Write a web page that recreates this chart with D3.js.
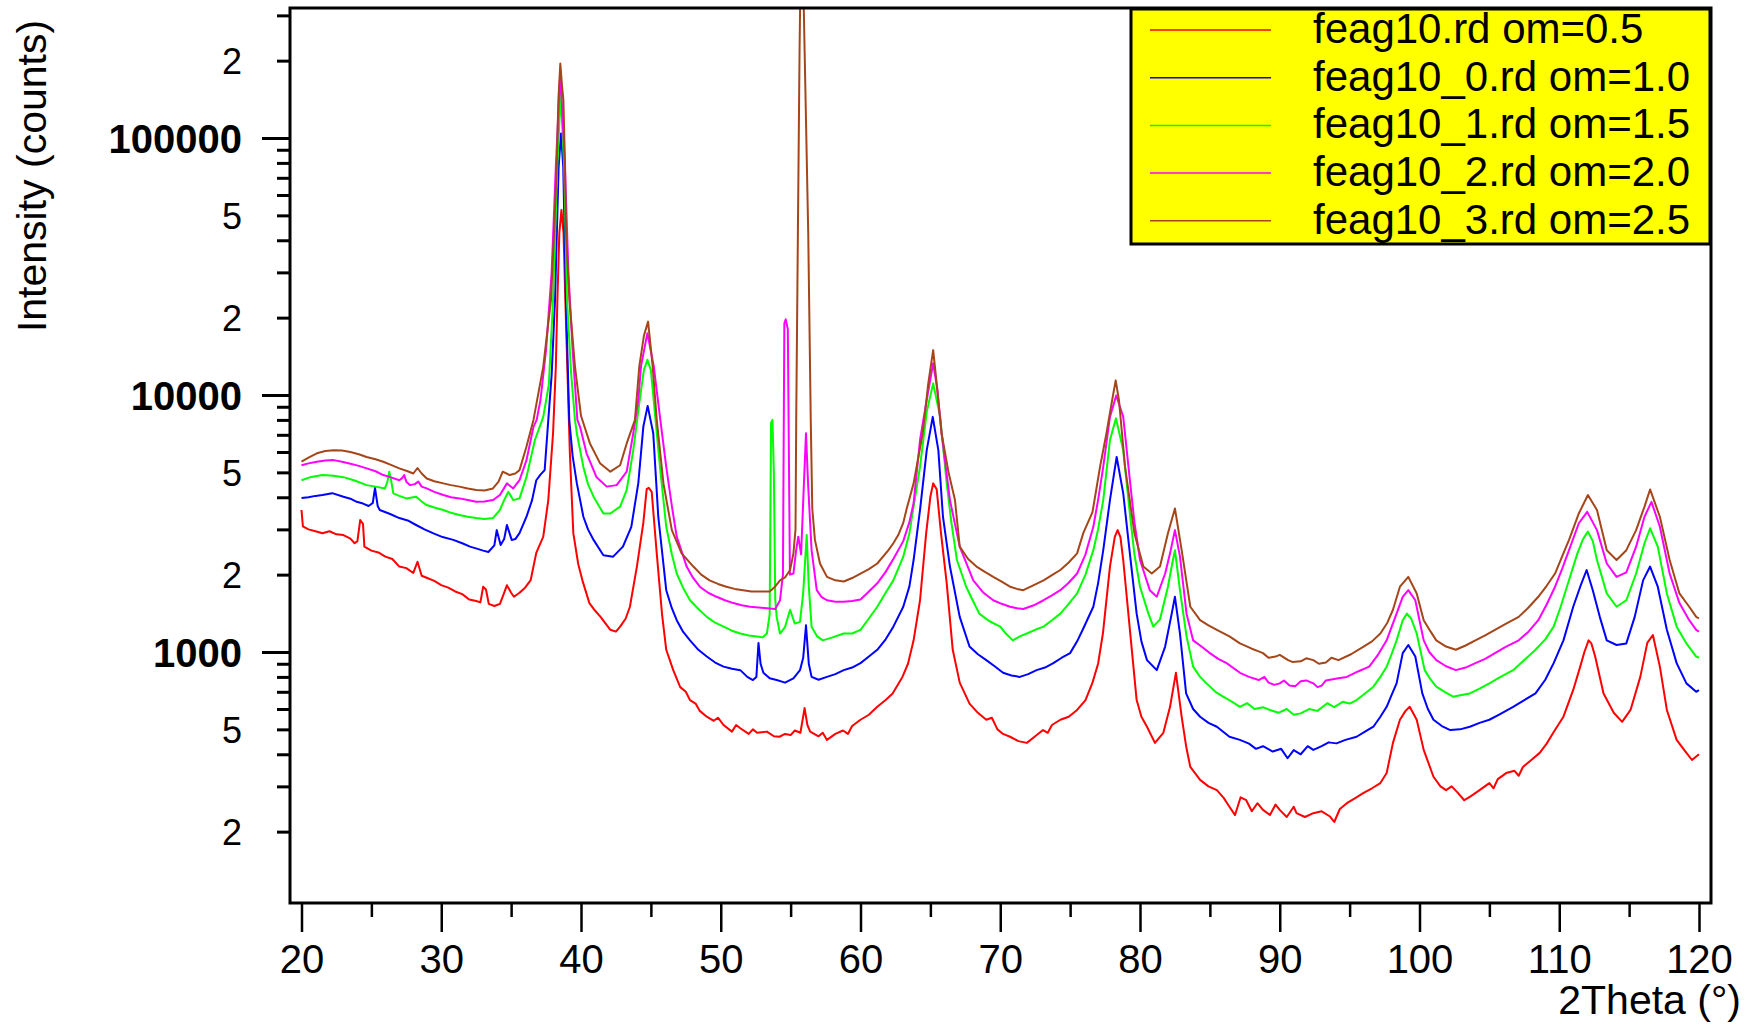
<!DOCTYPE html>
<html><head><meta charset="utf-8">
<script src="https://cdn.jsdelivr.net/npm/d3@7"></script>
<style>
body{margin:0;background:#fff}
text{font-family:"Liberation Sans",Arial,Helvetica,sans-serif;fill:#000}
</style>
</head><body>
<svg id="chart" width="1756" height="1027"></svg>
<script>
// ---------------- data ----------------
const seriesNames = ["feag10.rd om=0.5","feag10_0.rd om=1.0","feag10_1.rd om=1.5","feag10_2.rd om=2.0","feag10_3.rd om=2.5"];
const seriesColors = ["#ff0000","#0000ff","#00ff00","#ff00ff","#a5461a"];
const xTickValues = [20,25,30,35,40,45,50,55,60,65,70,75,80,85,90,95,100,105,110,115,120];
const xTickLabels = ["20","","30","","40","","50","","60","","70","","80","","90","","100","","110","","120"];
const yTickValues = [200,300,400,500,600,700,800,900,1000,2000,3000,4000,5000,6000,7000,8000,9000,10000,20000,30000,40000,50000,60000,70000,80000,90000,100000,200000,300000];
const yLabelValues = [200,500,1000,2000,5000,10000,20000,50000,100000,200000];
const yLabelTexts = ["2","5","1000","2","5","10000","2","5","100000","2"];
const yDecades = [1000,10000,100000];

const red = [[20.0,3570],[20.1,3080],[20.5,3000],[21.0,2950],[21.5,2900],[22.0,2950],[22.5,2870],[23.0,2850],[23.5,2760],[23.8,2650],[24.0,2700],[24.2,3260],[24.4,3150],[24.5,2570],[25.0,2480],[25.5,2440],[26.0,2350],[26.5,2300],[27.0,2150],[27.5,2120],[28.0,2030],[28.3,2245],[28.6,1980],[29.0,1940],[29.5,1890],[30.0,1820],[30.5,1780],[31.0,1720],[31.5,1680],[32.0,1600],[32.5,1580],[32.8,1560],[33.0,1795],[33.2,1750],[33.4,1540],[33.8,1510],[34.2,1540],[34.5,1700],[34.7,1820],[35.0,1700],[35.2,1640],[35.6,1700],[36.0,1780],[36.4,1905],[36.8,2430],[37.3,2810],[37.66,3900],[38.0,7100],[38.2,12900],[38.31,23400],[38.45,42600],[38.6,52500],[38.75,42600],[38.88,23400],[39.02,12900],[39.2,6000],[39.45,2900],[39.8,2200],[40.1,1900],[40.6,1550],[41.0,1450],[41.4,1370],[42.1,1220],[42.5,1200],[42.8,1255],[43.2,1350],[43.5,1500],[44.0,2150],[44.46,3180],[44.7,4300],[44.85,4350],[45.06,4200],[45.4,2490],[45.8,1400],[46.1,1020],[46.6,850],[47.1,730],[47.5,700],[47.8,650],[48.2,630],[48.5,590],[49.0,560],[49.5,540],[49.8,555],[50.2,520],[50.8,490],[51.1,520],[51.4,505],[52.0,480],[52.3,500],[52.6,485],[53.3,490],[53.8,470],[54.2,468],[54.6,480],[55.0,475],[55.3,495],[55.7,485],[56.0,605],[56.2,520],[56.4,490],[57.0,470],[57.3,485],[57.6,455],[58.2,480],[58.75,495],[59.1,480],[59.4,515],[60.0,545],[60.6,570],[61.2,612],[61.8,650],[62.3,690],[63.0,800],[63.4,900],[63.8,1110],[64.26,1590],[64.7,2900],[65.0,4020],[65.2,4530],[65.45,4300],[65.76,2900],[66.17,1850],[66.6,1020],[67.1,760],[67.8,630],[68.4,580],[69.0,545],[69.4,555],[69.8,500],[70.2,480],[70.7,468],[71.3,450],[71.9,443],[72.5,470],[73.06,497],[73.4,485],[73.7,520],[74.3,545],[74.9,560],[75.5,595],[76.1,650],[76.6,760],[77.0,900],[77.35,1185],[77.85,2150],[78.2,2810],[78.4,2980],[78.6,2800],[78.8,2280],[79.3,1185],[79.76,650],[80.1,560],[80.5,512],[81.07,443],[81.67,485],[82.15,612],[82.57,830],[82.98,560],[83.3,430],[83.6,357],[84.3,318],[84.9,300],[85.5,290],[86.0,270],[86.4,250],[86.8,232],[87.2,272],[87.6,265],[88.0,240],[88.4,258],[88.8,243],[89.3,232],[89.7,255],[90.0,243],[90.5,228],[91.0,250],[91.2,236],[91.8,228],[92.4,236],[93.0,240],[93.6,229],[93.9,218],[94.3,245],[94.8,258],[95.4,270],[96.0,283],[96.6,295],[97.2,309],[97.65,338],[98.1,443],[98.6,545],[99.0,590],[99.3,612],[99.8,545],[100.3,416],[101.0,327],[101.5,300],[101.9,290],[102.3,300],[102.7,285],[103.2,265],[103.6,273],[104.3,290],[105.0,309],[105.3,295],[105.6,320],[106.2,338],[106.8,345],[107.1,330],[107.4,357],[108.0,380],[108.6,405],[109.1,440],[109.57,485],[110.3,560],[111.0,712],[111.5,877],[111.8,1000],[112.1,1110],[112.3,1080],[112.57,960],[113.17,690],[113.9,580],[114.5,535],[115.1,595],[115.8,800],[116.3,1085],[116.7,1165],[117.2,877],[117.7,595],[118.4,455],[119.1,405],[119.5,380],[119.8,392],[120.0,400]];

const blue = [[20.0,3970],[20.5,4000],[21.0,4050],[21.5,4080],[22.2,4150],[23.0,4020],[23.5,3950],[23.95,3840],[24.4,3780],[24.8,3700],[25.1,3800],[25.26,4350],[25.45,3700],[25.6,3570],[26.3,3450],[27.0,3320],[27.6,3250],[28.2,3120],[28.8,3000],[29.4,2900],[30.1,2800],[30.86,2730],[31.5,2650],[32.06,2570],[32.6,2520],[33.0,2480],[33.37,2450],[33.8,2600],[33.97,2980],[34.1,2800],[34.25,2610],[34.5,2750],[34.7,3120],[35.04,2730],[35.3,2750],[35.6,2900],[36.1,3360],[36.5,3900],[36.8,4660],[37.1,4900],[37.4,5100],[37.66,8000],[37.9,12000],[38.14,23400],[38.4,77300],[38.57,104000],[38.73,77300],[38.92,23400],[39.16,8000],[39.4,5800],[39.7,4540],[40.17,3360],[40.5,3000],[40.9,2730],[41.6,2380],[42.3,2350],[43.0,2570],[43.6,3070],[44.1,4540],[44.46,7520],[44.77,9070],[45.17,7100],[45.53,3360],[46.1,1740],[46.5,1480],[46.85,1330],[47.3,1200],[47.8,1110],[48.4,1020],[49.0,960],[49.6,910],[50.2,877],[50.8,860],[51.4,850],[51.9,800],[52.3,778],[52.55,800],[52.7,1085],[52.85,900],[53.05,830],[53.5,790],[54.0,778],[54.6,760],[55.2,790],[55.67,850],[55.9,950],[56.1,1270],[56.3,900],[56.5,800],[57.0,780],[57.6,800],[58.2,820],[58.8,850],[59.4,870],[60.0,905],[60.6,960],[61.2,1020],[61.8,1120],[62.35,1255],[63.06,1500],[63.5,1800],[63.8,2280],[64.26,3570],[64.74,6100],[65.17,8220],[65.57,6100],[65.9,3360],[66.4,2150],[67.1,1370],[67.8,1050],[68.4,980],[69.0,930],[69.6,880],[70.2,830],[70.8,810],[71.4,800],[72.0,820],[72.6,850],[73.2,870],[73.8,905],[74.4,950],[75.0,990],[75.5,1100],[75.9,1220],[76.66,1500],[77.0,1850],[77.37,2490],[77.85,3900],[78.33,5740],[78.8,4140],[79.3,2350],[79.76,1410],[80.1,1100],[80.5,930],[81.2,850],[81.8,1050],[82.27,1410],[82.5,1640],[82.86,1180],[83.3,690],[83.8,600],[84.3,560],[84.9,530],[85.5,512],[86.4,468],[87.15,455],[87.8,440],[88.3,420],[88.8,430],[89.5,410],[90.1,420],[90.56,386],[91.0,415],[91.5,400],[92.0,430],[92.4,416],[93.0,430],[93.5,445],[94.06,441],[94.7,455],[95.5,468],[96.1,490],[96.7,512],[97.2,560],[97.65,612],[98.0,680],[98.36,755],[98.8,990],[99.2,1065],[99.7,960],[100.2,690],[100.6,600],[101.0,545],[101.6,515],[102.2,497],[102.9,500],[103.6,512],[104.3,530],[105.0,545],[105.8,575],[106.7,612],[107.5,650],[108.3,690],[109.0,780],[109.6,905],[110.3,1110],[111.0,1500],[111.5,1795],[111.96,2085],[112.4,1740],[112.9,1370],[113.4,1110],[114.1,1065],[114.8,1080],[115.4,1370],[116.0,1900],[116.5,2150],[117.05,1795],[117.7,1220],[118.4,905],[119.1,755],[119.8,700],[120.0,710]];

const green = [[20.0,4660],[20.7,4800],[21.5,4880],[22.3,4850],[23.0,4790],[23.8,4650],[24.66,4460],[25.3,4400],[25.97,4330],[26.15,4600],[26.28,5030],[26.4,4700],[26.57,4140],[27.0,4050],[27.5,3960],[28.2,4020],[28.6,3850],[28.96,3730],[29.5,3650],[30.15,3570],[30.7,3480],[31.3,3410],[31.9,3360],[32.5,3320],[33.1,3290],[33.7,3320],[34.2,3570],[34.5,3900],[34.8,4200],[35.15,3900],[35.6,3960],[36.1,4800],[36.7,6680],[37.3,8220],[37.7,11000],[38.0,23400],[38.3,77300],[38.55,149000],[38.8,77300],[39.0,23400],[39.3,12000],[39.57,8000],[39.7,7100],[40.17,5250],[40.5,4500],[40.9,4020],[41.6,3460],[42.1,3460],[42.8,3680],[43.27,4270],[43.74,6100],[44.2,9560],[44.5,12500],[44.75,13700],[45.0,12500],[45.2,9560],[45.65,5250],[46.1,3070],[46.5,2400],[46.85,2020],[47.3,1780],[47.8,1590],[48.4,1470],[49.0,1370],[49.6,1300],[50.2,1255],[50.8,1210],[51.4,1180],[52.0,1160],[52.6,1150],[53.0,1140],[53.3,1180],[53.5,1400],[53.6,7800],[53.7,8000],[53.8,5000],[53.9,1600],[54.0,1370],[54.24,1180],[54.6,1250],[54.96,1460],[55.3,1290],[55.67,1310],[55.9,1700],[56.15,2850],[56.3,1800],[56.5,1255],[56.9,1150],[57.3,1110],[58.0,1140],[58.8,1180],[59.4,1180],[60.0,1220],[60.6,1350],[61.2,1500],[61.8,1700],[62.35,1900],[63.06,2350],[63.5,2900],[63.8,3680],[64.26,5250],[64.74,8600],[65.2,11100],[65.7,8220],[66.17,4530],[66.5,3200],[66.9,2280],[67.56,1795],[68.0,1600],[68.5,1410],[69.2,1320],[70.0,1255],[70.4,1180],[70.9,1110],[71.4,1150],[71.9,1180],[72.5,1220],[73.1,1255],[73.7,1330],[74.3,1410],[74.9,1540],[75.5,1690],[76.1,2000],[76.66,2490],[77.0,3000],[77.37,3900],[77.85,6680],[78.28,8110],[78.8,6100],[79.3,3360],[79.6,2400],[80.0,1795],[80.6,1410],[80.95,1255],[81.43,1340],[82.0,1795],[82.3,2200],[82.5,2490],[82.86,1740],[83.33,1150],[83.8,877],[84.3,800],[84.76,755],[85.4,700],[85.95,670],[86.6,640],[87.15,612],[87.67,632],[88.2,600],[88.8,610],[89.3,595],[89.9,580],[90.5,600],[91.0,570],[91.5,577],[92.1,600],[92.7,590],[93.4,632],[93.9,610],[94.5,640],[95.0,630],[95.5,650],[96.1,690],[96.7,733],[97.2,800],[97.65,877],[98.0,980],[98.36,1110],[98.8,1330],[99.1,1410],[99.4,1350],[99.8,1180],[100.37,850],[100.8,780],[101.2,733],[101.8,700],[102.4,670],[103.0,680],[103.6,690],[104.3,720],[105.0,755],[105.8,800],[106.7,850],[107.5,930],[108.3,1020],[109.0,1120],[109.6,1255],[110.1,1500],[110.55,1795],[111.3,2420],[111.7,2750],[112.05,2940],[112.4,2700],[112.7,2280],[113.4,1690],[114.1,1500],[114.8,1590],[115.5,2020],[116.1,2650],[116.5,3030],[117.05,2570],[117.7,1690],[118.4,1255],[119.1,1080],[119.8,960],[120.0,950]];

const magenta = [[20.0,5330],[20.5,5420],[21.1,5500],[21.7,5560],[22.3,5580],[22.9,5500],[23.5,5400],[24.1,5300],[24.66,5180],[25.3,5050],[25.85,4880],[26.4,4780],[27.0,4660],[27.2,4750],[27.35,4880],[27.5,4600],[27.76,4460],[28.1,4500],[28.36,4600],[28.6,4400],[28.96,4330],[29.5,4200],[30.15,4080],[30.7,4000],[31.3,3960],[31.9,3900],[32.5,3840],[33.1,3850],[33.7,3900],[34.2,4080],[34.7,4530],[35.15,4330],[35.6,4660],[36.1,5580],[36.6,7520],[36.83,8000],[37.1,9560],[37.5,15000],[37.9,30000],[38.2,77300],[38.52,181000],[38.85,77300],[39.1,30000],[39.4,15000],[39.74,8000],[39.93,7520],[40.4,5930],[41.1,4800],[41.84,4400],[42.55,4460],[43.27,5030],[43.74,7100],[44.1,9560],[44.3,13000],[44.75,17400],[45.2,13000],[45.65,8220],[46.1,5250],[46.5,3700],[46.85,2810],[47.56,2150],[48.0,1950],[48.5,1795],[49.1,1700],[49.7,1640],[50.3,1590],[50.9,1550],[51.5,1520],[52.1,1500],[52.7,1490],[53.3,1480],[53.9,1470],[54.24,1590],[54.45,2000],[54.55,19000],[54.65,19700],[54.8,18000],[54.95,2000],[55.2,2020],[55.4,2500],[55.55,2810],[55.75,2400],[55.95,4500],[56.1,7100],[56.25,4500],[56.5,2490],[56.87,1740],[57.2,1640],[57.6,1590],[58.2,1570],[58.8,1570],[59.4,1580],[60.0,1600],[60.6,1720],[61.2,1850],[61.8,2050],[62.35,2300],[63.06,2700],[63.5,3200],[63.8,3800],[64.26,6680],[64.74,9560],[65.2,13300],[65.5,10500],[65.8,7100],[66.4,3900],[67.1,2570],[68.07,1900],[68.8,1700],[69.5,1590],[70.1,1540],[70.7,1500],[71.2,1480],[71.65,1470],[72.4,1520],[73.1,1590],[73.7,1660],[74.3,1740],[74.9,1860],[75.5,2020],[76.1,2400],[76.66,3070],[77.0,3900],[77.37,5250],[77.85,8220],[78.3,9960],[78.8,8220],[79.3,4530],[79.6,3200],[80.0,2280],[80.7,1740],[81.2,1640],[81.8,2020],[82.15,2420],[82.5,2980],[82.86,2350],[83.33,1410],[83.8,1110],[84.4,1050],[85.0,990],[85.6,940],[86.2,905],[87.15,830],[87.8,800],[88.5,778],[88.9,800],[89.2,760],[89.6,745],[90.0,755],[90.3,775],[90.7,740],[91.1,735],[91.5,770],[91.9,775],[92.4,755],[92.7,730],[93.0,740],[93.3,775],[93.6,780],[94.2,790],[94.8,800],[95.6,840],[96.4,877],[97.0,970],[97.65,1110],[98.36,1410],[98.8,1640],[99.2,1740],[99.7,1590],[100.3,1110],[100.7,1000],[101.2,930],[101.9,880],[102.6,850],[103.3,870],[104.0,905],[104.7,940],[105.4,990],[106.2,1050],[107.1,1110],[107.8,1200],[108.5,1330],[109.1,1530],[109.7,1795],[110.2,2100],[110.7,2490],[111.4,3170],[112.0,3510],[112.7,2980],[113.4,2210],[114.1,1960],[114.8,2040],[115.5,2570],[116.1,3360],[116.6,3840],[117.2,3070],[117.9,2020],[118.6,1550],[119.3,1330],[119.8,1220],[120.0,1200]];

const brown = [[20.0,5500],[20.5,5700],[21.1,5930],[21.7,6050],[22.3,6100],[22.9,6080],[23.5,6000],[24.1,5880],[24.66,5740],[25.3,5620],[25.85,5500],[26.4,5350],[27.0,5180],[27.6,5050],[28.0,4950],[28.3,5200],[28.6,4950],[28.96,4730],[29.5,4620],[30.15,4530],[30.7,4460],[31.3,4400],[31.9,4330],[32.5,4270],[33.1,4250],[33.7,4330],[34.1,4600],[34.4,5030],[34.9,4880],[35.3,4950],[35.6,5100],[36.1,6300],[36.6,8000],[37.3,12900],[37.85,23400],[38.07,42600],[38.26,77300],[38.38,140600],[38.52,195000],[38.64,160000],[38.74,140600],[38.86,77300],[38.93,42600],[39.17,23400],[39.57,12900],[40.0,8300],[40.64,6480],[41.36,5430],[42.1,5030],[42.8,5330],[43.27,6480],[43.86,8000],[44.17,12900],[44.5,17000],[44.8,19300],[45.13,12900],[45.42,8000],[45.9,4530],[46.5,2980],[47.2,2420],[48.04,2150],[48.6,2000],[49.2,1900],[49.8,1840],[50.4,1795],[51.0,1760],[51.6,1740],[52.2,1720],[52.8,1720],[53.5,1720],[53.9,1800],[54.24,1900],[54.6,1950],[54.96,2085],[55.2,2420],[55.35,3000],[55.4,8000],[55.52,42600],[55.64,220000],[55.78,900000],[56.0,220000],[56.26,42600],[56.44,8000],[56.55,3600],[56.74,2730],[57.1,2210],[57.6,1960],[58.2,1900],[58.8,1880],[59.4,1940],[60.0,2020],[60.6,2100],[61.2,2210],[62.0,2490],[62.35,2650],[62.7,2850],[63.06,3180],[63.3,3600],[63.8,4530],[64.45,7100],[64.85,11100],[65.2,14950],[65.45,11100],[65.8,7100],[66.3,5000],[66.76,3900],[67.1,2570],[67.7,2300],[68.3,2150],[68.9,2050],[69.5,1960],[70.1,1880],[70.7,1795],[71.2,1760],[71.65,1740],[72.4,1820],[73.1,1900],[73.7,1990],[74.3,2085],[74.9,2230],[75.5,2420],[75.94,2900],[76.6,3500],[77.14,5250],[77.6,7100],[78.0,9500],[78.26,11400],[78.5,9500],[78.93,5250],[79.6,2900],[80.24,2150],[80.84,2020],[81.43,2150],[82.0,2900],[82.5,3620],[82.98,2490],[83.6,1500],[84.3,1330],[84.9,1270],[85.5,1220],[86.4,1150],[87.15,1080],[88.0,1030],[88.4,1010],[88.8,990],[89.2,950],[89.7,960],[90.0,975],[90.6,930],[90.9,915],[91.5,920],[91.9,945],[92.4,930],[92.8,900],[93.3,910],[93.7,950],[94.2,930],[95.1,980],[96.0,1050],[96.6,1100],[97.2,1180],[97.7,1300],[98.1,1460],[98.6,1795],[99.2,1960],[99.8,1690],[100.3,1330],[100.8,1200],[101.2,1110],[101.9,1050],[102.6,1020],[103.3,1060],[104.0,1110],[104.7,1160],[105.4,1220],[106.2,1290],[107.1,1370],[107.8,1490],[108.5,1640],[109.1,1810],[109.7,2020],[110.2,2350],[110.7,2730],[111.4,3460],[112.05,4080],[112.7,3570],[113.4,2490],[114.1,2280],[114.8,2490],[115.5,2980],[116.1,3680],[116.5,4290],[117.2,3360],[117.9,2280],[118.6,1690],[119.3,1500],[119.8,1370],[120.0,1350]];

const seriesData = [red, blue, green, magenta, brown];

// ---------------- layout ----------------
const plot = {left: 290, right: 1711, top: 8, bottom: 903};
const svg = d3.select("#chart");

const x = d3.scaleLinear().domain([20, 120]).range([301.5, 1699]);
const y = d3.scaleLog().domain([1000, 100000]).range([652, 138]);

svg.append("defs").append("clipPath").attr("id", "clip")
  .append("rect").attr("x", plot.left).attr("y", plot.top)
  .attr("width", plot.right - plot.left).attr("height", plot.bottom - plot.top);

const line = d3.line().x(d => x(d[0])).y(d => y(d[1]));

const lines = svg.append("g").attr("clip-path", "url(#clip)");
seriesData.forEach((s, i) => {
  lines.append("path").datum(s)
    .attr("d", line)
    .attr("fill", "none")
    .attr("stroke", seriesColors[i])
    .attr("stroke-width", 2)
    .attr("stroke-linejoin", "round");
});

// frame
svg.append("rect")
  .attr("x", plot.left).attr("y", plot.top)
  .attr("width", plot.right - plot.left).attr("height", plot.bottom - plot.top)
  .attr("fill", "none").attr("stroke", "#000").attr("stroke-width", 3);

// y axis
const yLabelMap = new Map(yLabelValues.map((v, i) => [v, yLabelTexts[i]]));
const yAxis = d3.axisLeft(y).tickValues(yTickValues).tickSize(13).tickPadding(35)
  .tickFormat(d => yLabelMap.get(d) || "");
const gy = svg.append("g").attr("transform", `translate(${plot.left},0)`).call(yAxis);
gy.select(".domain").remove();
gy.selectAll(".tick line").attr("stroke", "#000").attr("stroke-width", 3)
  .attr("x2", d => yDecades.includes(d) ? -28 : -13);
gy.selectAll(".tick text")
  .attr("font-family", "'Liberation Sans', Arial, sans-serif")
  .attr("font-size", d => yDecades.includes(d) ? 40 : 36)
  .attr("font-weight", d => yDecades.includes(d) ? "bold" : "normal")
  .attr("fill", "#000")
  .attr("dy", "0.36em");

// x axis
const xLabelMap = new Map(xTickValues.map((v, i) => [v, xTickLabels[i]]));
const xAxis = d3.axisBottom(x).tickValues(xTickValues).tickSize(14).tickPadding(28)
  .tickFormat(d => xLabelMap.get(d));
const gx = svg.append("g").attr("transform", `translate(0,${plot.bottom})`).call(xAxis);
gx.select(".domain").remove();
gx.selectAll(".tick line").attr("stroke", "#000").attr("stroke-width", 2.5)
  .attr("y2", d => xLabelMap.get(d) ? 29 : 14);
gx.selectAll(".tick text")
  .attr("font-family", "'Liberation Sans', Arial, sans-serif")
  .attr("font-size", 40).attr("fill", "#000");

// axis titles
svg.append("text")
  .attr("transform", "translate(46,176) rotate(-90)")
  .attr("text-anchor", "middle")
  .attr("font-size", 41)
  .text("Intensity (counts)");
svg.append("text")
  .attr("x", 1741).attr("y", 1014)
  .attr("text-anchor", "end")
  .attr("font-size", 41)
  .text("2Theta (°)");

// legend
const lg = svg.append("g");
lg.append("rect").attr("x", 1131).attr("y", 9).attr("width", 579).attr("height", 235)
  .attr("fill", "#ffff00").attr("stroke", "#000").attr("stroke-width", 3);
seriesNames.forEach((name, i) => {
  const cy = 30 + i * 47.7;
  lg.append("line").attr("x1", 1150).attr("x2", 1271).attr("y1", cy).attr("y2", cy)
    .attr("stroke", seriesColors[i]).attr("stroke-width", 1.5);
  lg.append("text").attr("x", 1313).attr("y", cy + 13)
    .attr("font-size", 42).text(name);
});
</script>
</body></html>
